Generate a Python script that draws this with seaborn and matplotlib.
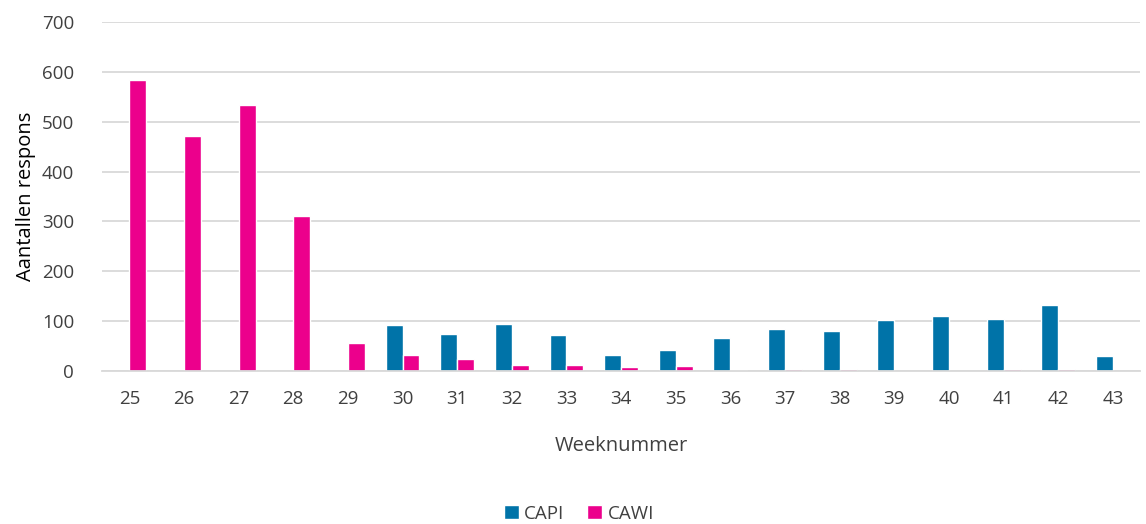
import matplotlib
matplotlib.use("Agg")
import matplotlib.pyplot as plt
import seaborn as sns
import pandas as pd

weeks = [str(w) for w in range(25, 44)]
capi = [0, 0, 0, 0, 0, 92, 75, 95, 72, 32, 42, 67, 84, 80, 103, 110, 105, 133, 30]
cawi = [583, 471, 533, 311, 56, 33, 25, 13, 13, 9, 11, 2, 4, 3, 0, 0, 3, 4, 0]

df = pd.DataFrame({
    "week": weeks * 2,
    "respons": capi + cawi,
    "modus": ["CAPI"] * len(weeks) + ["CAWI"] * len(weeks),
})

sns.set_style("white")
plt.rcParams["font.family"] = ["Open Sans", "DejaVu Sans"]

fig, ax = plt.subplots(figsize=(11.46, 5.24), dpi=100)
sns.barplot(data=df, x="week", y="respons", hue="modus", order=weeks,
            palette={"CAPI": "#0073A8", "CAWI": "#EC008C"},
            width=0.62, saturation=1, ax=ax)

ax.set_ylim(0, 700)
ax.set_xlim(-0.5, len(weeks) - 0.5)
ax.set_yticks(range(0, 701, 100))
ax.yaxis.grid(True, color="#d9d9d9", linewidth=1.3)
ax.set_axisbelow(True)
for s in ["top", "right", "left"]:
    ax.spines[s].set_visible(False)
ax.spines["bottom"].set_color("#d9d9d9")
ax.spines["bottom"].set_linewidth(1.3)
ax.tick_params(axis="both", length=0, labelsize=13.5, colors="#404040")
ax.tick_params(axis="x", pad=14)
ax.tick_params(axis="y", pad=20)
ax.set_xlabel("Weeknummer", fontsize=14.5, color="#404040", labelpad=20)
ax.set_ylabel("Aantallen respons", fontsize=14.5, color="#000000", labelpad=4)

handles, labels = ax.get_legend_handles_labels()
ax.get_legend().remove()
fig.legend(handles, labels, loc="center", bbox_to_anchor=(0.505, 0.02), ncol=2,
           frameon=False, fontsize=13.5, handlelength=0.8, handleheight=0.8,
           handletextpad=0.3, columnspacing=1.2, labelcolor="#404040")

fig.subplots_adjust(left=0.089, right=0.995, top=0.958, bottom=0.292)
fig.savefig("out.png", dpi=100)
